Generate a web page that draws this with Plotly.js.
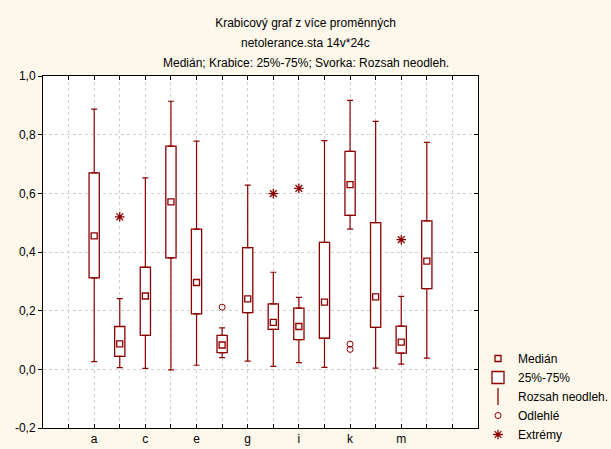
<!DOCTYPE html>
<html>
<head>
<meta charset="utf-8">
<script src="https://cdn.plot.ly/plotly-3.0.1.min.js"></script>
<style>html,body{margin:0;padding:0;background:#FDF8EB;}#chart{width:611px;height:449px;}</style>
</head>
<body>
<div id="chart"></div>
<script>
// ---- data ----
const categories = ['a','b','c','d','e','f','g','h','i','j','k','l','m','n'];
const whiskerLow  = [0.026,0.006,0.003,-0.002,0.014,0.040,0.028,0.010,0.023,0.007,0.478,0.004,0.018,0.038];
const q1          = [0.312,0.044,0.116,0.380,0.189,0.057,0.193,0.136,0.101,0.106,0.525,0.143,0.055,0.275];
const medians     = [0.455,0.087,0.250,0.571,0.296,0.083,0.240,0.160,0.146,0.229,0.630,0.247,0.093,0.369];
const q3          = [0.670,0.146,0.348,0.761,0.478,0.116,0.415,0.223,0.209,0.433,0.743,0.500,0.147,0.506];
const whiskerHigh = [0.887,0.241,0.653,0.914,0.778,0.141,0.628,0.331,0.245,0.780,0.917,0.845,0.249,0.774];
const outlierCats = ['f','k','k'];
const outlierVals = [0.212,0.086,0.068];
const extremeCats = ['b','h','i','m'];
const extremeVals = [0.520,0.599,0.617,0.442];
const xTickLabels = ['a','c','e','g','i','k','m'];
const yTickVals = [-0.2,0.0,0.2,0.4,0.6,0.8,1.0];
const titleLines = ['Krabicový graf z více proměnných','netolerance.sta 14v*24c','Medián; Krabice: 25%-75%; Svorka: Rozsah neodleh.'];
const legendNames = ['Medián','25%-75%','Rozsah neodleh.','Odlehlé','Extrémy'];

// ---- helpers ----
const RED = '#8B0000';
const pos = c => categories.indexOf(c);
const xs = categories.map((c,i)=>i);
const xTickVals = [];
const xTickText = [];
for (let v = -1; v <= categories.length; v++) {
  xTickVals.push(v);
  const c = categories[v];
  xTickText.push(c && xTickLabels.includes(c) ? c : '');
}
const yTickText = yTickVals.map(v => v.toFixed(1).replace('.', ','));

const traces = [
  { type:'bar', x: xs, base: q1, y: q3.map((v,i)=>v-q1[i]), width: 0.4,
    marker:{color:'#FFFFFF', line:{color:RED, width:1.3}},
    name: legendNames[1], legendrank: 2, showlegend: true },
  { type:'scatter', mode:'markers', x: xs, y: q3, marker:{opacity:0, size:1, color:RED},
    error_y:{type:'data', symmetric:false, array: whiskerHigh.map((v,i)=>v-q3[i]), arrayminus: q3.map(()=>0),
             width:3, thickness:1.2, color:RED}, showlegend:false },
  { type:'scatter', mode:'markers', x: xs, y: q1, marker:{opacity:0, size:1, color:RED},
    error_y:{type:'data', symmetric:false, array: q1.map(()=>0), arrayminus: q1.map((v,i)=>v-whiskerLow[i]),
             width:3, thickness:1.2, color:RED}, showlegend:false },
  { type:'scatter', mode:'markers', x: [null], y: [null], yaxis:'y2',
    marker:{symbol:'line-ns-open', size:12, color:RED, line:{color:RED, width:1.3}},
    name: legendNames[2], legendrank: 3 },
  { type:'scatter', mode:'markers', x: xs, y: medians,
    marker:{symbol:'square-open', size:6, color:RED, line:{color:RED, width:1.3}},
    name: legendNames[0], legendrank: 1 },
  { type:'scatter', mode:'markers', x: outlierCats.map(pos), y: outlierVals,
    marker:{symbol:'circle-open', size:6, color:RED, line:{color:RED, width:1}},
    name: legendNames[3], legendrank: 4 },
  { type:'scatter', mode:'markers', x: extremeCats.map(pos), y: extremeVals,
    marker:{symbol:'asterisk-open', size:8, color:RED, line:{color:RED, width:1.3}},
    name: legendNames[4], legendrank: 5 }
];

const FONT = 'Arial, "Liberation Sans", sans-serif';
const gridCol = '#D0D0D0';
const layout = {
  width: 611, height: 449,
  paper_bgcolor: '#FDF8EB', plot_bgcolor: '#FFFFFF',
  margin: {l:43, r:133, t:76, b:21},
  font: {family: FONT, size: 12, color: '#000'},
  barmode: 'overlay',
  hovermode: false,
  showlegend: true,
  title: {text: titleLines[0], font:{family:FONT, size:12, color:'#000'},
          x: 0.5, xref:'container', xanchor:'center', y: 1 - 23/449, yref:'container', yanchor:'middle'},
  annotations: [
    {text: titleLines[1], xref:'paper', yref:'paper', x:(305.5-43)/435, y:(428-43)/352,
     xanchor:'center', yanchor:'middle', showarrow:false, font:{family:FONT, size:12, color:'#000'}},
    {text: titleLines[2], xref:'paper', yref:'paper', x:(305.5-43)/435, y:(428-62.5)/352,
     xanchor:'center', yanchor:'middle', showarrow:false, font:{family:FONT, size:12, color:'#000'}}
  ],
  xaxis: {range:[-2, categories.length+1], tickmode:'array', tickvals:xTickVals, ticktext:xTickText,
          ticks:'inside', ticklen:4, tickcolor:'#000', mirror:'ticks', showline:true, linecolor:'#000', linewidth:1,
          showgrid:true, gridcolor:gridCol, griddash:'dot', gridwidth:1, zeroline:false, fixedrange:true,
          tickfont:{family:FONT, size:12, color:'#000'}},
  yaxis: {range:[-0.2, 1.0], tickmode:'array', tickvals:yTickVals, ticktext:yTickText,
          ticks:'outside', ticklen:4, tickcolor:'#000', showline:true, mirror:true, linecolor:'#000', linewidth:1,
          showgrid:true, gridcolor:gridCol, griddash:'dot', gridwidth:1, zeroline:false, fixedrange:true,
          tickfont:{family:FONT, size:12, color:'#000'}},
  yaxis2: {overlaying:'y', side:'right', anchor:'x', range:[-0.2, 1.0], tickmode:'array', tickvals:yTickVals,
           ticks:'inside', ticklen:4, tickcolor:'#000', showticklabels:false, showgrid:false, showline:false,
           zeroline:false, fixedrange:true},
  legend: {xref:'container', yref:'container', x: 478/611, xanchor:'left', y: 0, yanchor:'bottom',
           traceorder:'normal', itemwidth:30,
           bgcolor:'rgba(0,0,0,0)', borderwidth:0, font:{family:FONT, size:12, color:'#000'},
           itemclick:false, itemdoubleclick:false}
};

Plotly.newPlot('chart', traces, layout, {staticPlot:true, displayModeBar:false});
</script>
</body>
</html>
